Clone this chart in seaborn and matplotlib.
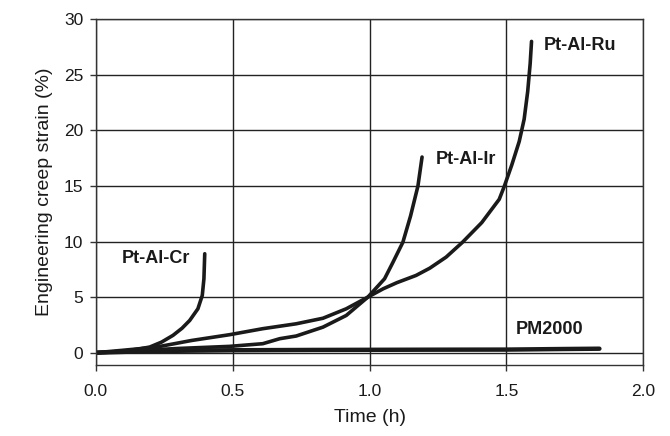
import numpy as np
import pandas as pd
import matplotlib
matplotlib.use("Agg")
import matplotlib.pyplot as plt
import seaborn as sns

# ---- data ----
cr_t = [0.0, 0.05, 0.10, 0.15, 0.197, 0.24, 0.282, 0.315, 0.343, 0.373, 0.389, 0.395, 0.398]
cr_s = [0.0, 0.05, 0.15, 0.3, 0.51, 0.95, 1.56, 2.2, 2.9, 3.95, 5.15, 6.65, 8.9]

ir_t = [0.0, 0.1, 0.2, 0.3, 0.4, 0.489, 0.61, 0.672, 0.732, 0.83, 0.915, 0.994,
        1.055, 1.085, 1.122, 1.15, 1.177, 1.192]
ir_s = [0.0, 0.1, 0.25, 0.38, 0.48, 0.57, 0.81, 1.26, 1.5, 2.3, 3.35, 5.0,
        6.65, 8.1, 9.94, 12.3, 15.0, 17.6]

ru_t = [0.0, 0.1, 0.22, 0.35, 0.489, 0.61, 0.732, 0.83, 0.915, 0.994, 1.05, 1.1,
        1.17, 1.22, 1.28, 1.34, 1.41, 1.474, 1.493, 1.52, 1.547, 1.565, 1.578, 1.587, 1.592]
ru_s = [0.0, 0.22, 0.5, 1.1, 1.62, 2.16, 2.6, 3.1, 3.95, 5.0, 5.75, 6.3,
        6.95, 7.6, 8.6, 9.94, 11.7, 13.8, 15.0, 16.9, 19.0, 21.0, 23.5, 26.0, 28.0]

pm_t = [0.0, 0.2, 0.5, 0.8, 1.0, 1.2, 1.5, 1.7, 1.84]
pm_s = [0.0, 0.15, 0.22, 0.25, 0.26, 0.27, 0.28, 0.33, 0.36]

labels = ["Pt-Al-Cr", "Pt-Al-Ir", "Pt-Al-Ru", "PM2000"]
label_pos = [(0.221, 8.45), (1.353, 17.4), (1.77, 27.6), (1.657, 2.1)]

frames = []
for name, t, s in zip(labels, [cr_t, ir_t, ru_t, pm_t], [cr_s, ir_s, ru_s, pm_s]):
    frames.append(pd.DataFrame({"time": t, "strain": s, "alloy": name}))
df = pd.concat(frames, ignore_index=True)

sns.set_theme(style="white")
plt.rcParams["font.family"] = ["Liberation Sans", "DejaVu Sans"]

fig = plt.figure(figsize=(6.7, 4.36), dpi=100)
ax = fig.add_axes([0.143, 0.163, 0.817, 0.793])

widths = {"Pt-Al-Cr": 2.6, "Pt-Al-Ir": 2.6, "Pt-Al-Ru": 2.6, "PM2000": 3.2}
for name in labels:
    sub = df[df["alloy"] == name]
    sns.lineplot(data=sub, x="time", y="strain", sort=False, estimator=None,
                 color="#1a1a1a", linewidth=widths[name], ax=ax, legend=False)
    ax.lines[-1].set_solid_capstyle("round")
    ax.lines[-1].set_solid_joinstyle("round")

ax.set_xlim(0, 2.0)
ax.set_ylim(-1.1, 30)
ax.set_xticks([0.0, 0.5, 1.0, 1.5, 2.0])
ax.set_xticklabels(["0.0", "0.5", "1.0", "1.5", "2.0"])
ax.set_yticks([0, 5, 10, 15, 20, 25, 30])
ax.grid(True, color="#222222", linewidth=1.0)
ax.set_axisbelow(True)
for sp in ax.spines.values():
    sp.set_color("#333333")
    sp.set_linewidth(1.0)
ax.tick_params(axis="both", direction="out", length=4, width=1, color="#333333",
               labelsize=12.5, labelcolor="#1a1a1a", bottom=True, left=True)
ax.tick_params(axis="x", pad=10)
ax.tick_params(axis="y", pad=5)

ax.set_xlabel("Time (h)", fontsize=14, color="#1a1a1a", labelpad=7)
ax.set_ylabel("Engineering creep strain (%)", fontsize=14, color="#1a1a1a", labelpad=8)

for name, (x, y) in zip(labels, label_pos):
    ax.text(x, y, name, ha="center", va="center", fontsize=13, fontweight="bold", color="#1a1a1a")

fig.savefig("out.png", dpi=100)
